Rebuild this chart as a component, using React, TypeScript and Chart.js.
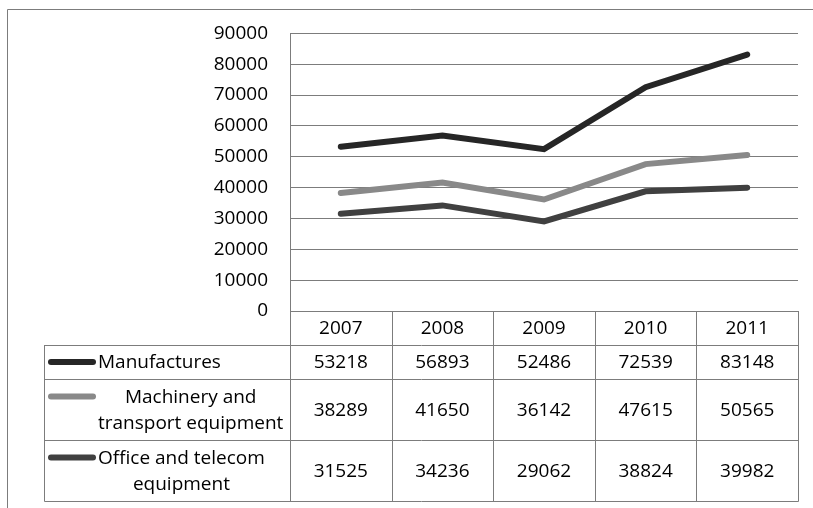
import React, { useEffect, useRef } from "react";
import { Chart, registerables } from "chart.js";

Chart.register(...registerables);

// Export values by year (trade data, three product groups)
const years = ["2007", "2008", "2009", "2010", "2011"];
const manufactures = [53218, 56893, 52486, 72539, 83148];
const machineryTransport = [38289, 41650, 36142, 47615, 50565];
const officeTelecom = [31525, 34236, 29062, 38824, 39982];
const seriesNames = [
  "Manufactures",
  "Machinery and transport equipment",
  "Office and telecom equipment",
];
const seriesColors = ["#262626", "#898989", "#404040"];
const yMax = 90000;
const yStep = 10000;

const FONT_FAMILY = '"Open Sans", sans-serif';
const FONT_SIZE = 19;
const TEXT_COLOR = "#000000";
const RULE_COLOR = "#7c7c7c";

// Table geometry below the plot
const TABLE_LEFT = 44;
const ROW_HEIGHTS = [34, 34, 61, 61];
const KEY_X0 = 48;
const KEY_X1 = 96;
const LABEL_X = 98;
const LABEL_MAX_W = 190;
const LINE_H = 26;

function wrapText(ctx: CanvasRenderingContext2D, text: string, maxW: number): string[] {
  const words = text.split(" ");
  const lines: string[] = [];
  let cur = "";
  for (const w of words) {
    const t = cur ? cur + " " + w : w;
    if (cur && ctx.measureText(t).width > maxW) {
      lines.push(cur);
      cur = w;
    } else {
      cur = t;
    }
  }
  if (cur) lines.push(cur);
  return lines;
}

const frameAndTable = {
  id: "frameAndTable",
  afterDraw(chart: any) {
    const { ctx, chartArea } = chart;
    const labels: string[] = chart.data.labels;
    const datasets = chart.data.datasets;
    const n = labels.length;
    const left = chartArea.left;
    const right = chartArea.right;
    const colW = (right - left) / n;
    const xs = chart.scales.x;

    ctx.save();
    ctx.strokeStyle = RULE_COLOR;
    ctx.lineWidth = 1;

    // outer chart frame (left and top edges)
    ctx.beginPath();
    ctx.moveTo(7.5, 9.5);
    ctx.lineTo(chart.width, 9.5);
    ctx.moveTo(7.5, 9.5);
    ctx.lineTo(7.5, chart.height);
    ctx.stroke();

    // row boundaries
    const rowTops: number[] = [];
    let y = Math.round(chartArea.bottom);
    rowTops.push(y);
    for (const h of ROW_HEIGHTS) {
      y += h;
      rowTops.push(y);
    }
    const bottom = rowTops[rowTops.length - 1];

    ctx.beginPath();
    // header row top line (from the plot's left edge)
    ctx.moveTo(left, rowTops[0] + 0.5);
    ctx.lineTo(right, rowTops[0] + 0.5);
    for (let i = 1; i < rowTops.length; i++) {
      ctx.moveTo(TABLE_LEFT + 0.5, rowTops[i] + 0.5);
      ctx.lineTo(right + 0.5, rowTops[i] + 0.5);
    }
    // column boundaries
    for (let i = 0; i <= n; i++) {
      const cx = Math.round(left + i * colW) + 0.5;
      ctx.moveTo(cx, rowTops[0]);
      ctx.lineTo(cx, bottom + 0.5);
    }
    ctx.moveTo(TABLE_LEFT + 0.5, rowTops[1]);
    ctx.lineTo(TABLE_LEFT + 0.5, bottom + 0.5);
    ctx.stroke();

    ctx.fillStyle = TEXT_COLOR;
    ctx.font = `${FONT_SIZE}px ${FONT_FAMILY}`;
    ctx.textBaseline = "middle";
    ctx.textAlign = "center";

    // header: category labels
    const headMid = (rowTops[0] + rowTops[1]) / 2 + 1;
    labels.forEach((lab, i) => {
      ctx.fillText(lab, xs.getPixelForValue(i), headMid);
    });

    // series rows: legend key, name, values
    datasets.forEach((ds: any, r: number) => {
      const top = rowTops[r + 1];
      const bot = rowTops[r + 2];
      const mid = (top + bot) / 2 + 1;

      ds.data.forEach((v: number, i: number) => {
        ctx.textAlign = "center";
        ctx.fillText(String(v), xs.getPixelForValue(i), mid);
      });

      const lines = wrapText(ctx, ds.label, LABEL_MAX_W);
      const widths = lines.map((l) => ctx.measureText(l).width);
      const blockW = Math.max(...widths);
      const firstY = mid - ((lines.length - 1) * LINE_H) / 2;
      lines.forEach((l, k) => {
        ctx.textAlign = "left";
        ctx.fillText(l, LABEL_X + (blockW - widths[k]) / 2, firstY + k * LINE_H);
      });

      ctx.save();
      ctx.strokeStyle = ds.borderColor;
      ctx.lineWidth = 6;
      ctx.lineCap = "round";
      ctx.beginPath();
      ctx.moveTo(KEY_X0 + 3, firstY - 1);
      ctx.lineTo(KEY_X1 - 3, firstY - 1);
      ctx.stroke();
      ctx.restore();
    });

    ctx.restore();
  },
};

export default function App() {
  const ref = useRef<HTMLCanvasElement | null>(null);

  useEffect(() => {
    if (!ref.current) return;
    const series = [manufactures, machineryTransport, officeTelecom];
    const chart = new Chart(ref.current, {
      type: "line",
      data: {
        labels: years,
        datasets: series.map((d, i) => ({
          label: seriesNames[i],
          data: d,
          borderColor: seriesColors[i],
          backgroundColor: seriesColors[i],
          borderWidth: 6,
          borderCapStyle: "round" as const,
          borderJoinStyle: "miter" as const,
          pointRadius: 0,
          tension: 0,
          fill: false,
        })),
      },
      options: {
        animation: false,
        responsive: false,
        devicePixelRatio: 1,
        layout: { padding: { top: 33, right: 15, bottom: 197, left: 0 } },
        plugins: {
          legend: { display: false },
          tooltip: { enabled: false },
        },
        scales: {
          x: {
            type: "category",
            offset: true,
            display: false,
          },
          y: {
            min: 0,
            max: yMax,
            ticks: {
              stepSize: yStep,
              padding: 22,
              color: TEXT_COLOR,
              font: { family: FONT_FAMILY, size: FONT_SIZE },
              callback: (v: any) => String(v),
            },
            grid: { color: RULE_COLOR, lineWidth: 1, drawTicks: false },
            border: { display: true, color: RULE_COLOR, width: 1 },
            afterFit: (scale: any) => {
              scale.width = 290;
            },
          },
        },
      },
      plugins: [frameAndTable],
    });
    return () => chart.destroy();
  }, []);

  return (
    <div style={{ position: "fixed", left: 0, top: 0, width: 813, height: 508, background: "#fff" }}>
      <canvas ref={ref} width={813} height={508} style={{ display: "block" }} />
    </div>
  );
}
